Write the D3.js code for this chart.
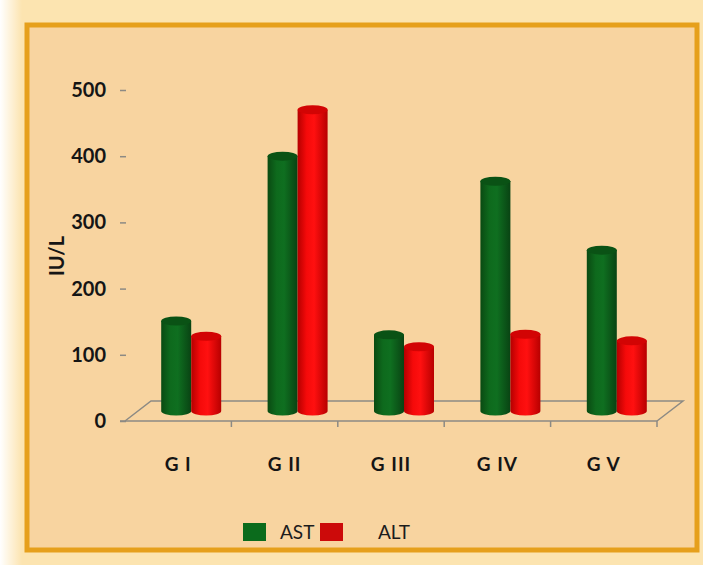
<!DOCTYPE html>
<html>
<head>
<meta charset="utf-8">
<script src="https://cdn.jsdelivr.net/npm/d3@7"></script>
<style>
  body { margin: 0; background: #fce4b0; }
  svg { display: block; }
</style>
</head>
<body>
<script>
// data
var categories = ["G I", "G II", "G III", "G IV", "G V"];
var seriesNames = ["AST", "ALT"];
var astValues = [136, 385, 115, 347, 243];
var altValues = [113, 455, 97, 116, 106];
var yTicks = [0, 100, 200, 300, 400, 500];

var W = 703, H = 565;
var svg = d3.select("body").append("svg")
    .attr("width", W)
    .attr("height", H);

var defs = svg.append("defs");
// shading for the cylinders
function cylGrad(id, stops) {
    var g = defs.append("linearGradient").attr("id", id)
        .attr("x1", "0%").attr("x2", "100%").attr("y1", "0%").attr("y2", "0%");
    stops.forEach(function (s) {
        g.append("stop").attr("offset", s[0]).attr("stop-color", s[1]);
    });
}
cylGrad("gGreen", [["0%", "#0a4a12"], ["30%", "#0e6a1d"], ["55%", "#0f6f20"], ["100%", "#094313"]]);
cylGrad("gRed", [["0%", "#b50000"], ["30%", "#f50a0a"], ["55%", "#ff1010"], ["100%", "#b80000"]]);
var edge = defs.append("linearGradient").attr("id", "gEdge")
    .attr("x1", "0%").attr("x2", "100%");
edge.append("stop").attr("offset", "0%").attr("stop-color", "#ffffff").attr("stop-opacity", 1);
edge.append("stop").attr("offset", "100%").attr("stop-color", "#ffffff").attr("stop-opacity", 0);

// background and frame
svg.append("rect").attr("width", W).attr("height", H).attr("fill", "#fce4b0");
svg.append("rect").attr("x", 0).attr("y", 0).attr("width", 22).attr("height", H).attr("fill", "url(#gEdge)");
svg.append("rect")
    .attr("x", 27).attr("y", 25)
    .attr("width", 670).attr("height", 525)
    .attr("fill", "#f8d4a0")
    .attr("stroke", "#e6a01c")
    .attr("stroke-width", 5);

// scales
var yScale = d3.scaleLinear().domain([0, 500]).range([421, 90]);
var xScale = d3.scaleBand().domain(categories).range([125, 657]);
var subScale = d3.scaleBand().domain(seriesNames).range([0, 60]);
var depthX = 26, depthY = -20;      // floor depth
var barDx = 13, barDy = -10;        // bars sit in the middle of the floor

// floor
var x0 = xScale.range()[0], x1 = xScale.range()[1], y0 = yScale(0);
svg.append("path")
    .attr("d", "M" + x0 + "," + y0 + "L" + (x0 + depthX) + "," + (y0 + depthY) +
        "L" + (x1 + depthX) + "," + (y0 + depthY) + "L" + x1 + "," + y0)
    .attr("fill", "none")
    .attr("stroke", "#8c8a84")
    .attr("stroke-width", 1.5);
svg.append("line")
    .attr("x1", 120).attr("x2", x1)
    .attr("y1", y0).attr("y2", y0)
    .attr("stroke", "#8c8a84").attr("stroke-width", 1.5);

// tick marks under the floor front edge
svg.selectAll(".xtick")
    .data(categories)
    .enter().append("line")
    .attr("class", "xtick")
    .attr("x1", function (d) { return xScale(d) + xScale.bandwidth(); })
    .attr("x2", function (d) { return xScale(d) + xScale.bandwidth(); })
    .attr("y1", y0).attr("y2", y0 + 6)
    .attr("stroke", "#8c8a84").attr("stroke-width", 1.5);

// y axis
var yAxis = d3.axisLeft(yScale).tickValues(yTicks).tickSize(6).tickPadding(14);
var gy = svg.append("g")
    .attr("transform", "translate(126,0)")
    .call(yAxis);
gy.select(".domain").remove();
gy.selectAll(".tick line").attr("stroke", "#8c8a84").attr("stroke-width", 1.5);
gy.selectAll(".tick text")
    .attr("font-family", "Lato, 'Open Sans', sans-serif")
    .attr("font-weight", "bold")
    .attr("font-size", "20px")
    .attr("fill", "#151515");

svg.append("text")
    .attr("transform", "translate(64,256) rotate(-90)")
    .attr("text-anchor", "middle")
    .attr("font-family", "Lato, 'Open Sans', sans-serif")
    .attr("font-weight", "bold")
    .attr("font-size", "20px")
    .attr("fill", "#151515")
    .text("IU/L");

// category labels
svg.selectAll(".xlab")
    .data(categories)
    .enter().append("text")
    .attr("class", "xlab")
    .attr("x", function (d) { return xScale(d) + xScale.bandwidth() / 2; })
    .attr("y", 471)
    .attr("text-anchor", "middle")
    .attr("font-family", "Lato, 'Open Sans', sans-serif")
    .attr("font-weight", "bold")
    .attr("font-size", "19px")
    .attr("letter-spacing", "1px")
    .attr("fill", "#151515")
    .text(function (d) { return d; });

// cylinders
var rows = [];
categories.forEach(function (c, i) {
    rows.push({ cat: c, key: "AST", v: astValues[i] });
    rows.push({ cat: c, key: "ALT", v: altValues[i] });
});
var bw = subScale.bandwidth(), rx = bw / 2, ry = 4.5;
function barLeft(d) {
    return xScale(d.cat) + xScale.bandwidth() / 2 - 30 + barDx + subScale(d.key);
}
var bars = svg.selectAll(".bar")
    .data(rows)
    .enter().append("g")
    .attr("class", "bar");
bars.append("path")
    .attr("d", function (d) {
        var xl = barLeft(d), yb = yScale(0) + barDy, yt = yScale(d.v) + barDy;
        return "M" + xl + "," + yt + "L" + xl + "," + yb +
            "A" + rx + "," + ry + " 0 0 0 " + (xl + bw) + "," + yb +
            "L" + (xl + bw) + "," + yt + "Z";
    })
    .attr("fill", function (d) { return d.key === "AST" ? "url(#gGreen)" : "url(#gRed)"; });
bars.append("ellipse")
    .attr("cx", function (d) { return barLeft(d) + rx; })
    .attr("cy", function (d) { return yScale(d.v) + barDy; })
    .attr("rx", rx).attr("ry", ry)
    .attr("fill", function (d) { return d.key === "AST" ? "#0a5215" : "#d20404"; });

// legend
var legend = [
    { key: "AST", color: "#0b6b1c", x: 243, tx: 280 },
    { key: "ALT", color: "#cc0a0a", x: 320, tx: 378 }
];
var lg = svg.selectAll(".leg").data(legend).enter().append("g").attr("class", "leg");
lg.append("rect")
    .attr("x", function (d) { return d.x; })
    .attr("y", 523)
    .attr("width", 23).attr("height", 18)
    .attr("fill", function (d) { return d.color; });
lg.append("text")
    .attr("x", function (d) { return d.tx; })
    .attr("y", 539)
    .attr("font-family", "Lato, 'Open Sans', sans-serif")
    .attr("font-size", "19px")
    .attr("fill", "#1c1c1c")
    .text(function (d) { return d.key; });
</script>
</body>
</html>
